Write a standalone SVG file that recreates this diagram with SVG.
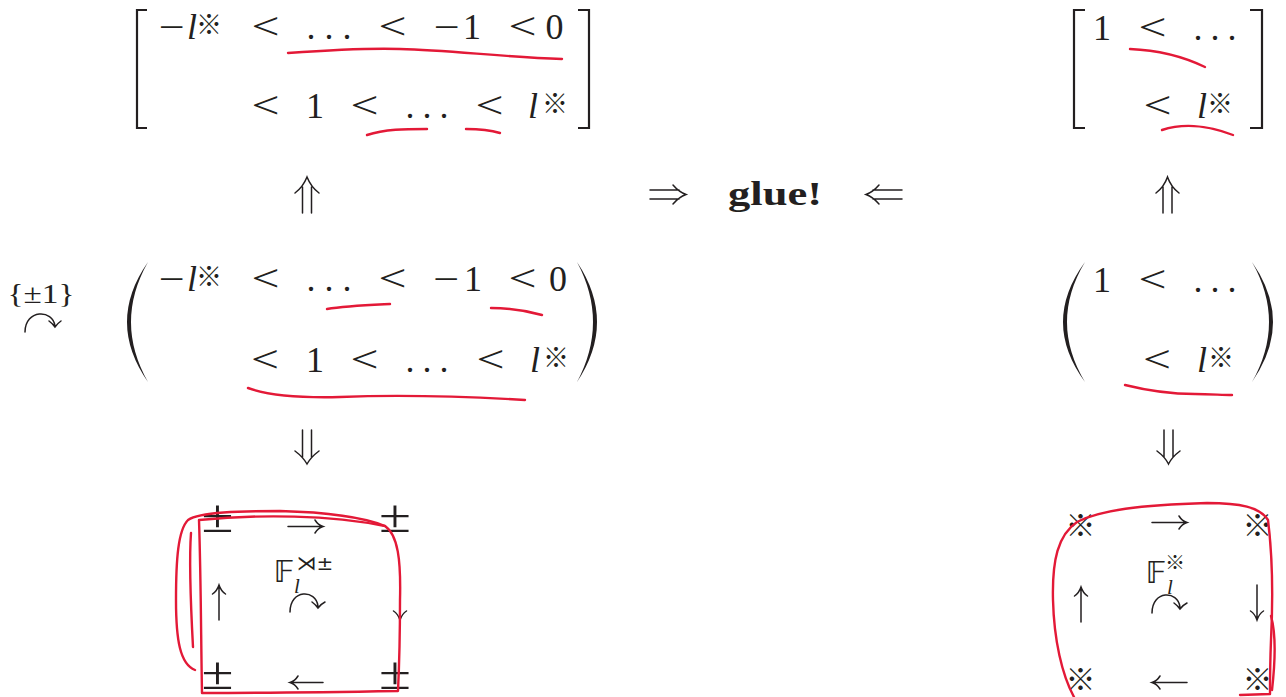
<svg xmlns="http://www.w3.org/2000/svg" width="1286" height="697" viewBox="0 0 1286 697">
<style>
.t{font-family:"Liberation Serif","DejaVu Serif",serif;font-size:36px;fill:#231f20;text-anchor:middle}
.lt{font-size:37px}
.pm{font-size:46px}
.it{font-style:italic}
.sup{font-family:"Noto Sans CJK JP","DejaVu Sans",sans-serif;font-size:26px}
.big{font-family:"Noto Sans CJK JP","DejaVu Sans",sans-serif;font-size:30px}
.bb{font-family:"DejaVu Sans","DejaVu Serif",sans-serif;font-size:31px}
.red{fill:none;stroke:#e31937;stroke-width:2.4;stroke-linecap:round;stroke-linejoin:round}
.ar{fill:none;stroke:#231f20;stroke-width:1.5;stroke-linecap:round}
.del{fill:none;stroke:#231f20;stroke-width:2.2}
.par{fill:#231f20;stroke:none}
</style>
<rect width="1286" height="697" fill="#ffffff"/>

<g id="top-left">
  <path class="del" d="M147,10 H137 V128 H147 M578,10 H589 V128 H578"/>
  <text class="t" x="171.5" y="39" textLength="26" lengthAdjust="spacingAndGlyphs">−</text>
  <text class="t it" x="192" y="39">l</text>
  <text class="t sup" x="209" y="34">※</text>
  <text class="t lt" x="265.5" y="39" textLength="28" lengthAdjust="spacingAndGlyphs">&lt;</text>
  <text class="t" x="311 329 347" y="39">...</text>
  <text class="t lt" x="392.5" y="39" textLength="28" lengthAdjust="spacingAndGlyphs">&lt;</text>
  <text class="t" x="446.5" y="39" textLength="26" lengthAdjust="spacingAndGlyphs">−</text>
  <text class="t" x="472" y="39">1</text>
  <text class="t lt" x="522.5" y="39" textLength="28" lengthAdjust="spacingAndGlyphs">&lt;</text>
  <text class="t" x="554.5" y="39">0</text>
  <text class="t lt" x="265.5" y="118" textLength="28" lengthAdjust="spacingAndGlyphs">&lt;</text>
  <text class="t" x="315" y="118">1</text>
  <text class="t lt" x="364.5" y="118" textLength="28" lengthAdjust="spacingAndGlyphs">&lt;</text>
  <text class="t" x="410 427 444" y="118">...</text>
  <text class="t lt" x="489.5" y="118" textLength="28" lengthAdjust="spacingAndGlyphs">&lt;</text>
  <text class="t it" x="533" y="118">l</text>
  <text class="t sup" x="555" y="113">※</text>
</g>

<g id="top-right">
  <path class="del" d="M1085,10 H1074 V128 H1085 M1250,10 H1262 V128 H1250"/>
  <text class="t" x="1102" y="40">1</text>
  <text class="t lt" x="1152.5" y="40" textLength="28" lengthAdjust="spacingAndGlyphs">&lt;</text>
  <text class="t" x="1198 1215 1232" y="40">...</text>
  <text class="t lt" x="1157.5" y="118" textLength="28" lengthAdjust="spacingAndGlyphs">&lt;</text>
  <text class="t it" x="1202" y="118">l</text>
  <text class="t sup" x="1220" y="113">※</text>
</g>

<g id="glue">
  <text class="t" x="775" y="205" textLength="94" lengthAdjust="spacingAndGlyphs" style="font-weight:bold;font-size:34px">glue!</text>
</g>

<g id="action-label">
  <text class="t" x="41" y="303" textLength="67" lengthAdjust="spacingAndGlyphs" style="font-size:28px">{±1}</text>
</g>

<g id="middle-left">
  <path class="par" d="M148,262 Q106,322 148,382 Q114,322 148,262 Z"/>
  <path class="par" d="M577,262 Q617,322 577,382 Q609,322 577,262 Z"/>
  <text class="t" x="171.5" y="291" textLength="26" lengthAdjust="spacingAndGlyphs">−</text>
  <text class="t it" x="192" y="291">l</text>
  <text class="t sup" x="209" y="286">※</text>
  <text class="t lt" x="265.5" y="291" textLength="28" lengthAdjust="spacingAndGlyphs">&lt;</text>
  <text class="t" x="311 329 347" y="291">...</text>
  <text class="t lt" x="392.5" y="291" textLength="28" lengthAdjust="spacingAndGlyphs">&lt;</text>
  <text class="t" x="446" y="291" textLength="26" lengthAdjust="spacingAndGlyphs">−</text>
  <text class="t" x="473" y="291">1</text>
  <text class="t lt" x="522.5" y="291" textLength="28" lengthAdjust="spacingAndGlyphs">&lt;</text>
  <text class="t" x="558" y="291">0</text>
  <text class="t lt" x="265" y="372" textLength="28" lengthAdjust="spacingAndGlyphs">&lt;</text>
  <text class="t" x="315" y="372">1</text>
  <text class="t lt" x="364.5" y="372" textLength="28" lengthAdjust="spacingAndGlyphs">&lt;</text>
  <text class="t" x="410 427 444" y="372">...</text>
  <text class="t lt" x="490.5" y="372" textLength="28" lengthAdjust="spacingAndGlyphs">&lt;</text>
  <text class="t it" x="535" y="372">l</text>
  <text class="t sup" x="556" y="367">※</text>
</g>

<g id="middle-right">
  <path class="par" d="M1085,262 Q1041,322 1085,382 Q1049,322 1085,262 Z"/>
  <path class="par" d="M1252,262 Q1294,322 1252,382 Q1286,322 1252,262 Z"/>
  <text class="t" x="1102" y="292">1</text>
  <text class="t lt" x="1152.5" y="292" textLength="28" lengthAdjust="spacingAndGlyphs">&lt;</text>
  <text class="t" x="1198 1215 1232" y="292">...</text>
  <text class="t lt" x="1157" y="372" textLength="28" lengthAdjust="spacingAndGlyphs">&lt;</text>
  <text class="t it" x="1202" y="372">l</text>
  <text class="t sup" x="1221" y="367">※</text>
</g>

<g id="square-left">
  <text class="t pm" x="217.5" y="532" textLength="32" lengthAdjust="spacingAndGlyphs">±</text>
  <text class="t pm" x="395" y="532" textLength="32" lengthAdjust="spacingAndGlyphs">±</text>
  <text class="t pm" x="217.5" y="689" textLength="32" lengthAdjust="spacingAndGlyphs">±</text>
  <text class="t pm" x="395" y="689" textLength="32" lengthAdjust="spacingAndGlyphs">±</text>
  <text class="t bb" x="284" y="582">𝔽</text>
  <text class="t it" x="297" y="593" style="font-size:21px">l</text>
  <text class="t" x="315" y="570" style="font-size:20px;font-family:'DejaVu Sans',sans-serif">⋊±</text>
</g>

<g id="square-right">
  <text class="t big" x="1080.5" y="536">※</text>
  <text class="t big" x="1257.5" y="536">※</text>
  <text class="t big" x="1080.5" y="690">※</text>
  <text class="t big" x="1257.5" y="690">※</text>
  <text class="t bb" x="1156" y="583">𝔽</text>
  <text class="t it" x="1170" y="594" style="font-size:21px">l</text>
  <text class="t sup" x="1175" y="570" style="font-size:20px">※</text>
</g>

<g id="connectors">
  <path class="ar" d="M302.5,187 V213 M311.5,187 V213 M295,193 Q303,187 307,177 Q311,187 319,193"/>
  <path class="ar" d="M1163,187 V213 M1172,187 V213 M1156,193 Q1164,187 1167.5,177 Q1171,187 1179,193"/>
  <path class="ar" d="M302.5,430 V457 M311.5,430 V457 M295,451 Q303,457 307,464 Q311,457 319,451"/>
  <path class="ar" d="M1164,430 V457 M1173,430 V457 M1157,451 Q1165,457 1168.5,464 Q1172,457 1180,451"/>
  <path class="ar" d="M650,190 H679 M650,199 H679 M673,185 Q679,192 686,194.5 Q679,197 673,204"/>
  <path class="ar" d="M873,190 H902 M873,199 H902 M879,185 Q873,192 866,194.5 Q873,197 879,204"/>
  <path class="ar" d="M288,526.5 H322 M315,520 Q318,525 323,526.5 Q318,528 315,533"/>
  <path class="ar" d="M291,682.5 H323 M298,676 Q295,681 290,682.5 Q295,684 298,689"/>
  <path class="ar" d="M219,587 V620 M212.5,594 Q217,591 219,585 Q221,591 225.5,594"/>
  <path class="ar" d="M400,585 V618 M393.5,611 Q398,614 400,620 Q402,614 406.5,611"/>
  <path class="ar" d="M290,612 C290,589 316,589 318,606 M312,602 Q316,605 318,608 Q321,604 325,602"/>
  <path class="ar" d="M1152,522.5 H1186 M1179,516 Q1182,521 1187,522.5 Q1182,524 1179,529"/>
  <path class="ar" d="M1153,682.5 H1187 M1160,676 Q1157,681 1152,682.5 Q1157,684 1160,689"/>
  <path class="ar" d="M1081,589 V622 M1074.5,596 Q1079,593 1081,587 Q1083,593 1087.5,596"/>
  <path class="ar" d="M1257,585 V618 M1250.5,611 Q1255,614 1257,620 Q1259,614 1263.5,611"/>
  <path class="ar" d="M1152,613 C1152,590 1178,590 1180,607 M1174,603 Q1178,606 1180,609 Q1183,605 1187,603"/>
  <path class="ar" d="M25,332 C25,309 53,309 55,326 M49,321 Q53,324 55,327 Q58,323 61,321"/>
</g>

<g id="annotations">
  <path class="red" d="M288,53 C330,50 370,48 400,49 C450,50 500,57 562,59"/>
  <path class="red" d="M367,135 C385,129 405,129 427,129"/>
  <path class="red" d="M466,129 C478,129 490,130 500,133"/>
  <path class="red" d="M1130,49 C1155,50 1180,55 1205,67"/>
  <path class="red" d="M1162,130 C1180,124 1205,124 1233,135"/>
  <path class="red" d="M327,309 C345,306 370,305 390,304"/>
  <path class="red" d="M491,308 C510,308 528,311 542,315"/>
  <path class="red" d="M248,388 C270,396 300,398 340,397 C390,395 440,395 525,400"/>
  <path class="red" d="M1125,385 C1145,390 1170,394 1195,394 C1210,394 1222,395 1232,395"/>
  <path class="red" d="M199,520 C260,514 330,515 385,526 C398,535 401,560 400,600 C400,640 399,670 398,691 C340,692 270,693 202,693 C201,640 201,580 199,520 Z"/>
  <path class="red" d="M195,670 C180,664 176,640 176,600 C176,560 178,530 188,520 C200,512 240,511 280,511 C320,512 360,516 385,526"/>
  <path class="red" d="M191,533 C189,560 191,610 193,647"/>
  <path class="red" d="M1074,697 C1062,675 1054,640 1053,600 C1052,560 1058,535 1077,522 C1100,510 1140,505 1207,503 C1240,503 1260,507 1268,520 C1273,560 1273,600 1271,640 C1270,665 1270,680 1270,694 L1240,695"/>
  <path class="red" d="M1271,616 C1275,630 1276,655 1272,690"/>
</g>
</svg>
